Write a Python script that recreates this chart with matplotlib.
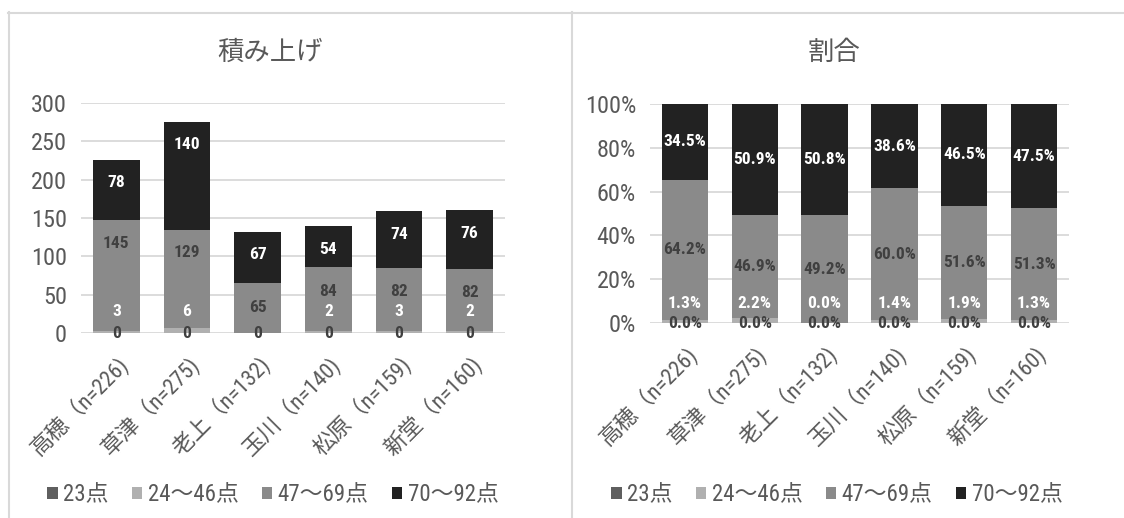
import matplotlib
matplotlib.use('Agg')
import matplotlib.pyplot as plt
from matplotlib import font_manager
from matplotlib.patches import Patch
from matplotlib.lines import Line2D
import numpy as np

names = {f.name for f in font_manager.fontManager.ttflist}
NARROW = next((n for n in ['Roboto Condensed', 'Archivo Narrow', 'PT Sans Narrow',
                           'Liberation Sans Narrow', 'Liberation Sans'] if n in names), 'DejaVu Sans')
FAM = [NARROW, 'Noto Sans CJK JP', 'DejaVu Sans']
plt.rcParams['font.family'] = FAM

# ---------------- data ----------------
categories = ['高穂（n=226)', '草津（n=275)', '老上（n=132)', '玉川（n=140)', '松原（n=159)', '新堂（n=160)']
series_names = ['23点', '24〜46点', '47〜69点', '70〜92点']
s_23 = [0, 0, 0, 0, 0, 0]
s_24_46 = [3, 6, 0, 2, 3, 2]
s_47_69 = [145, 129, 65, 84, 82, 82]
s_70_92 = [78, 140, 67, 54, 74, 76]
left_ticks = [0, 50, 100, 150, 200, 250, 300]
right_ticks = [0, 0.2, 0.4, 0.6, 0.8, 1.0]
titles = ['積み上げ', '割合']

# ---------------- style ----------------
colors = ['#5f5f5f', '#b0b0b0', '#8a8a8a', '#222222']
label_colors = ['#404040', 'white', '#404040', 'white']
GRID = '#d9d9d9'
TXT = '#595959'
W, H = 1124, 518
# pixel nudges of the data labels in the left chart (as placed in the original)
left_nudge_px = [
    [0, 0, 0, 0, 0, 0],
    [0, 0, 0, 0, 0, 0],
    [32, 26, 1, 8, 8, 8],
    [7, 31, 3, -3, 5, 6],
]
right_nudge_px = [[0] * 6 for _ in range(4)]

fig = plt.figure(figsize=(W / 100, H / 100), dpi=100)
fig.patch.set_facecolor('white')


def rect(x0, x1, ytop, ybot):
    return [x0 / W, 1 - ybot / H, (x1 - x0) / W, (ybot - ytop) / H]


axL = fig.add_axes(rect(81, 505, 103, 333))
axR = fig.add_axes(rect(650, 1069, 104, 323))

series = [np.array(s_23, float), np.array(s_24_46, float),
          np.array(s_47_69, float), np.array(s_70_92, float)]
totals = sum(series)
x = np.arange(len(categories))
BW = 0.665


def draw(ax, data, fmt, small_offset, hide_zero_small, nudge):
    bottom = np.zeros(len(categories))
    for i, vals in enumerate(data):
        ax.bar(x, vals, BW, bottom=bottom, color=colors[i], zorder=3, linewidth=0)
        for j in range(len(x)):
            kw = dict(ha='center', va='center', fontsize=12.5, fontweight='bold',
                      color=label_colors[i], zorder=5, textcoords='offset pixels')
            if i == 1:
                if hide_zero_small and vals[j] == 0:
                    continue
                ax.annotate(fmt(vals[j]), (x[j], 0), xytext=(0, small_offset), **kw)
            else:
                ax.annotate(fmt(vals[j]), (x[j], bottom[j] + vals[j] / 2),
                            xytext=(0, nudge[i][j]), **kw)
        bottom = bottom + vals
    ax.set_xlim(-0.5, len(categories) - 0.5)
    for s in ax.spines.values():
        s.set_visible(False)
    ax.yaxis.grid(True, color=GRID, linewidth=1.3, zorder=0)
    ax.set_axisbelow(True)
    ax.tick_params(length=0, labelsize=17.5, labelcolor=TXT)
    ax.tick_params(axis='y', pad=10)
    ax.set_xticks(x)
    ax.set_xticklabels(categories, rotation=45, ha='right', rotation_mode='anchor',
                       fontsize=16, color=TXT)
    ax.tick_params(axis='x', pad=14)


draw(axL, series, lambda v: f'{int(round(v))}', 21, True, left_nudge_px)
axL.set_ylim(0, 300)
axL.set_yticks(left_ticks)
axL.set_yticklabels([str(t) for t in left_ticks])

pct = [s / totals for s in series]
draw(axR, pct, lambda v: f'{v * 100 + 1e-9:.1f}%', 20, False, right_nudge_px)
axR.set_ylim(0, 1)
axR.set_yticks(right_ticks)
axR.set_yticklabels([f'{int(round(t * 100))}%' for t in right_ticks])

# titles
fig.text(270 / W, 1 - 52 / H, titles[0], ha='center', va='center', fontsize=19,
         color=TXT, family=['Noto Sans CJK JP'])
fig.text(834 / W, 1 - 52 / H, titles[1], ha='center', va='center', fontsize=19,
         color=TXT, family=['Noto Sans CJK JP'])

# legends
handles = [Patch(facecolor=c, edgecolor='none') for c in colors]
for cx in (273, 837):
    fig.legend(handles, series_names, loc='center', bbox_to_anchor=(cx / W, 1 - 495 / H),
               ncol=4, frameon=False, handlelength=0.45, handleheight=0.45,
               handletextpad=0.25, columnspacing=1.0, fontsize=16.5, labelcolor=TXT)

# panel borders
fig.add_artist(Line2D([8 / W, 1], [1 - 12.5 / H] * 2, color=GRID, lw=1.5,
                      transform=fig.transFigure))
fig.add_artist(Line2D([8.5 / W] * 2, [0, 1 - 12 / H], color=GRID, lw=1.5,
                      transform=fig.transFigure))
fig.add_artist(Line2D([572 / W] * 2, [0, 1 - 12 / H], color=GRID, lw=1.5,
                      transform=fig.transFigure))

fig.savefig('out.png', dpi=100, facecolor='white')
